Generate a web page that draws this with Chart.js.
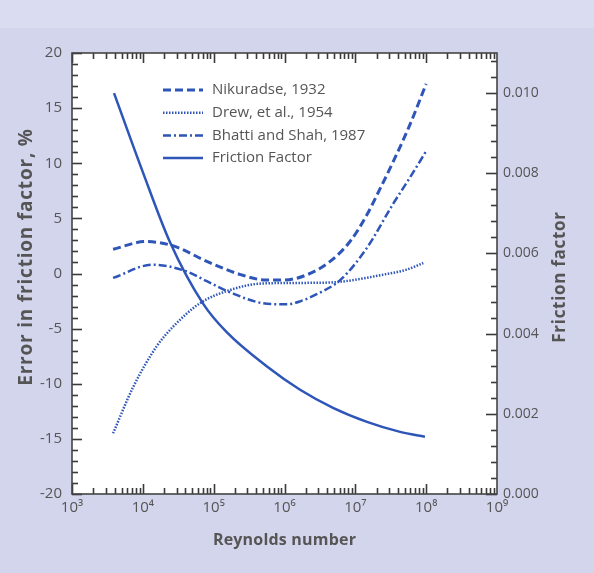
<!DOCTYPE html>
<html>
<head>
<meta charset="utf-8">
<script src="https://cdn.jsdelivr.net/npm/chart.js@4/dist/chart.umd.min.js"></script>
<style>
  body { margin: 0; background: #d3d5ed; }
  #wrap { width: 594px; height: 573px; }
</style>
</head>
<body>
<div id="wrap"><canvas id="myChart" width="594" height="573"></canvas></div>
<script>
// data (Reynolds number on x)
const nikuradseRe = [3.8e3, 1.1e4, 2.7e4, 8e4, 2.4e5, 5.6e5, 9.6e5, 2.1e6, 4.4e6, 8.4e6, 1.45e7, 2.2e7, 3.4e7, 5.9e7, 1e8];
const nikuradseErr = [2.2, 2.9, 2.5, 1.1, -0.1, -0.6, -0.6, -0.1, 1.1, 2.9, 5.3, 7.6, 10.1, 13.5, 17.2];

const drewRe = [3.8e3, 7.3e3, 1.57e4, 2.7e4, 6.4e4, 1.7e5, 5e5, 2.1e6, 6.1e6, 2.5e7, 5.3e7, 9.1e7];
const drewErr = [-14.5, -10.3, -6.6, -4.8, -2.7, -1.5, -0.9, -0.85, -0.75, -0.1, 0.35, 0.95];

const bhattiRe = [3.8e3, 1.37e4, 4.1e4, 8e4, 1.7e5, 5e5, 1.07e6, 1.7e6, 2.8e6, 6.1e6, 1.45e7, 3.4e7, 5.9e7, 1e8];
const bhattiErr = [-0.4, 0.8, 0.2, -0.7, -1.7, -2.7, -2.8, -2.5, -1.9, -0.6, 2.3, 6.3, 8.7, 11.1];

const frictionRe = [3.92e3, 1.0e4, 2.42e4, 7.08e4, 1.54e5, 5.66e5, 1.66e6, 4.84e6, 1.46e7, 4.28e7, 9.6e7];
const frictionF = [0.0100, 0.00803, 0.00628, 0.00475, 0.00403, 0.00318, 0.00260, 0.00215, 0.00180, 0.00155, 0.00143];

const labels = ['Nikuradse, 1932', 'Drew, et al., 1954', 'Bhatti and Shah, 1987', 'Friction Factor'];
const xTicks = [1e3, 1e4, 1e5, 1e6, 1e7, 1e8, 1e9];
const errTicks = [-20, -15, -10, -5, 0, 5, 10, 15, 20];
const frictionTicks = [0, 0.002, 0.004, 0.006, 0.008, 0.010];

const blue = '#2e55b8';
const textColor = '#555555';
const fontName = '"Open Sans", "Noto Sans", sans-serif';
const sup = { 3: '³', 4: '⁴', 5: '⁵', 6: '⁶', 7: '⁷', 8: '⁸', 9: '⁹' };

function pairs(xs, ys) {
  return xs.map((x, i) => ({ x: x, y: ys[i] }));
}

function tick(ctx, x1, y1, x2, y2) {
  ctx.beginPath();
  ctx.moveTo(x1, y1);
  ctx.lineTo(x2, y2);
  ctx.stroke();
}

// rotated or flat title text
function title(ctx, text, x, y, size, spacing, rotate) {
  ctx.save();
  ctx.font = 'bold ' + size + 'px ' + fontName;
  ctx.letterSpacing = spacing + 'px';
  ctx.translate(x, y);
  if (rotate) ctx.rotate(-Math.PI / 2);
  ctx.fillText(text, 0, 0);
  ctx.restore();
}

// tinted page and white plot area
const plotBackground = {
  id: 'plotBackground',
  beforeDraw(chart) {
    const c = chart.ctx;
    const a = chart.chartArea;
    c.save();
    c.fillStyle = '#d3d5ed';
    c.fillRect(0, 0, chart.width, chart.height);
    c.fillStyle = '#dadcf1';
    c.fillRect(0, 0, chart.width, 28);
    c.fillStyle = '#ffffff';
    c.fillRect(a.left, a.top, a.right - a.left, a.bottom - a.top);
    c.restore();
  }
};

// inward tick marks, frame, legend and axis titles
const frame = {
  id: 'frame',
  afterDraw(chart) {
    const c = chart.ctx;
    const a = chart.chartArea;
    const sx = chart.scales.x;
    const sy = chart.scales.y;
    const sy2 = chart.scales.y2;
    c.save();
    c.setLineDash([]);
    c.strokeStyle = '#3a3a3a';
    c.lineWidth = 1.6;
    // log ticks, top and bottom
    for (let e = 3; e <= 8; e++) {
      for (let k = 1; k <= 9; k++) {
        let px = Math.round(sx.getPixelForValue(k * Math.pow(10, e))) + 0.5;
        let len = k === 1 ? 10 : 6;
        tick(c, px, a.bottom, px, a.bottom - len);
        tick(c, px, a.top, px, a.top + len);
      }
    }
    // left ticks every 1 %
    for (let v = -20; v <= 20; v++) {
      let py = Math.round(sy.getPixelForValue(v)) + 0.5;
      let len = v % 5 === 0 ? 10 : 6;
      tick(c, a.left, py, a.left + len, py);
    }
    // right ticks every 0.0004
    for (let i = 0; i <= 27; i++) {
      let py = Math.round(sy2.getPixelForValue(i * 0.0004)) + 0.5;
      let len = i % 5 === 0 ? 11 : 6;
      tick(c, a.right, py, a.right - len, py);
    }

    c.strokeStyle = '#444444';
    c.lineWidth = 1.6;
    c.strokeRect(a.left, a.top, a.right - a.left, a.bottom - a.top);

    // legend
    c.font = '15px ' + fontName;
    c.fillStyle = textColor;
    c.textBaseline = 'middle';
    c.textAlign = 'left';
    chart.data.datasets.forEach((ds, i) => {
      let y = a.top + 37 + i * 22.7;
      c.strokeStyle = ds.borderColor;
      c.lineWidth = ds.borderWidth;
      c.setLineDash(ds.borderDash || []);
      tick(c, a.left + 91, y, a.left + 131, y);
      c.fillText(ds.label, a.left + 140, y);
    });

    // axis titles
    c.setLineDash([]);
    c.textAlign = 'center';
    title(c, 'Reynolds number', (a.left + a.right) / 2, 540, 16, 0.2, false);
    title(c, 'Error in friction factor, %', 27, 257, 19, 0.8, true);
    title(c, 'Friction factor', 560, 277, 17, 0.7, true);
    c.restore();
  }
};

const ctx = document.getElementById('myChart').getContext('2d');

let options = {
  type: 'line',
  data: {
    datasets: [
      {
        label: labels[0],
        data: pairs(nikuradseRe, nikuradseErr),
        borderColor: blue,
        borderWidth: 3,
        borderDash: [8, 4],
        yAxisID: 'y'
      },
      {
        label: labels[1],
        data: pairs(drewRe, drewErr),
        borderColor: blue,
        borderWidth: 2.5,
        borderDash: [1.5, 1.5],
        yAxisID: 'y'
      },
      {
        label: labels[2],
        data: pairs(bhattiRe, bhattiErr),
        borderColor: blue,
        borderWidth: 2.5,
        borderDash: [8, 3, 2, 3],
        yAxisID: 'y'
      },
      {
        label: labels[3],
        data: pairs(frictionRe, frictionF),
        borderColor: blue,
        borderWidth: 2.5,
        yAxisID: 'y2'
      }
    ]
  },
  options: {
    responsive: false,
    animation: false,
    layout: { padding: { top: 53, left: 0, right: 0, bottom: 0 } },
    elements: {
      point: { radius: 0 },
      line: { cubicInterpolationMode: 'monotone', fill: false }
    },
    plugins: {
      legend: { display: false },
      tooltip: { enabled: false }
    },
    scales: {
      x: {
        type: 'logarithmic',
        position: 'bottom',
        min: 1e3,
        max: 1e9,
        grid: { display: false, drawTicks: false },
        border: { display: false },
        afterBuildTicks: (s) => { s.ticks = xTicks.map(v => ({ value: v })); },
        afterFit: (s) => { s.height = 79; },
        ticks: {
          autoSkip: false,
          maxRotation: 0,
          padding: 5,
          color: textColor,
          font: { family: fontName, size: 15 },
          callback: (v) => '10' + sup[Math.round(Math.log10(v))]
        }
      },
      y: {
        position: 'left',
        min: -20,
        max: 20,
        grid: { display: false, drawTicks: false },
        border: { display: false },
        afterBuildTicks: (s) => { s.ticks = errTicks.map(v => ({ value: v })); },
        afterFit: (s) => { s.width = 72; },
        ticks: {
          padding: 10,
          color: textColor,
          font: { family: fontName, size: 15 }
        }
      },
      y2: {
        position: 'right',
        min: 0,
        max: 0.011,
        grid: { display: false, drawTicks: false },
        border: { display: false },
        afterBuildTicks: (s) => { s.ticks = frictionTicks.map(v => ({ value: v })); },
        afterFit: (s) => { s.width = 97; },
        ticks: {
          padding: 6,
          color: textColor,
          font: { family: fontName, size: 14 },
          callback: (v) => v.toFixed(3)
        }
      }
    }
  },
  plugins: [plotBackground, frame]
};

const myChart = new Chart(ctx, options);
</script>
</body>
</html>
